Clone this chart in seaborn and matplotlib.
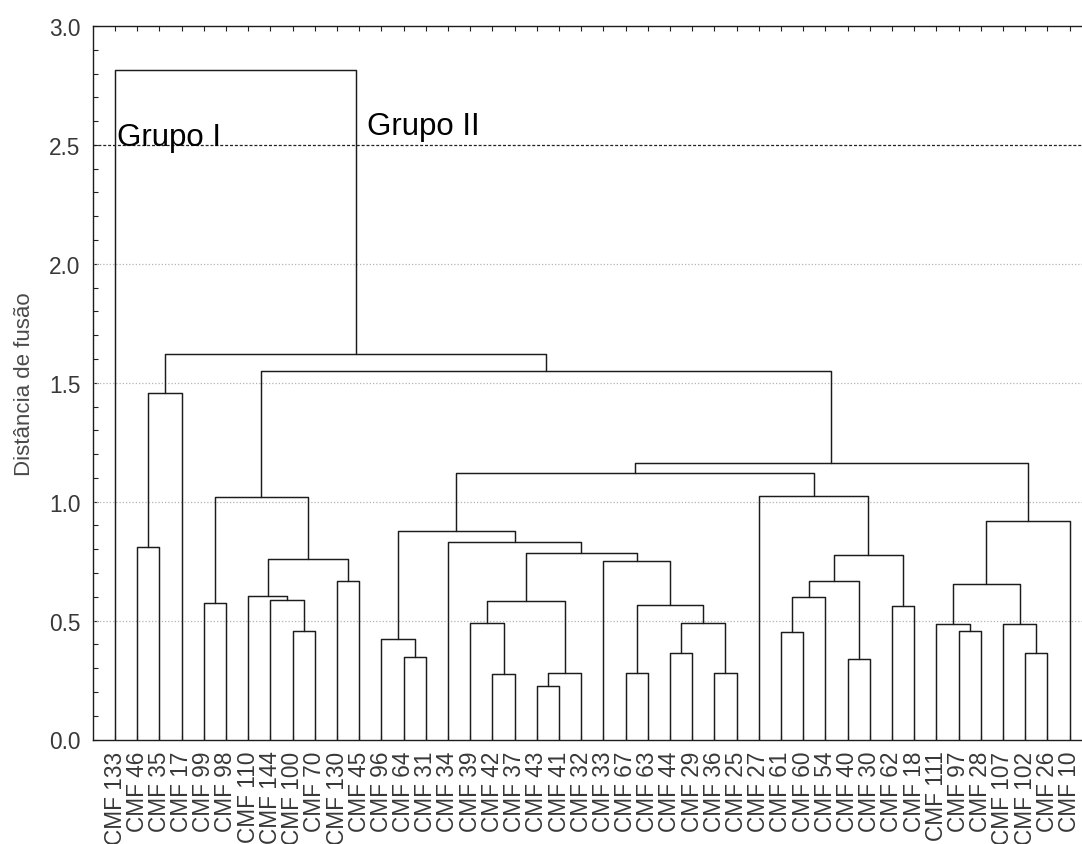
import numpy as np
import pandas as pd
import matplotlib
matplotlib.use("Agg")
import matplotlib.pyplot as plt
from matplotlib.ticker import MultipleLocator
import seaborn as sns

# Leaf order along the horizontal axis
leaves = [
    "CMF 133", "CMF 46", "CMF 35", "CMF 17", "CMF 99", "CMF 98", "CMF 110",
    "CMF 144", "CMF 100", "CMF 70", "CMF 130", "CMF 45", "CMF 96", "CMF 64",
    "CMF 31", "CMF 34", "CMF 39", "CMF 42", "CMF 37", "CMF 43", "CMF 41",
    "CMF 32", "CMF 33", "CMF 67", "CMF 63", "CMF 44", "CMF 29", "CMF 36",
    "CMF 25", "CMF 27", "CMF 61", "CMF 60", "CMF 54", "CMF 40", "CMF 30",
    "CMF 62", "CMF 18", "CMF 111", "CMF 97", "CMF 28", "CMF 107", "CMF 102",
    "CMF 26", "CMF 10",
]

# Agglomeration steps: ids < 44 are leaves, step k creates cluster 44 + k
merge_left = [1, 44, 4, 8, 7, 6, 10, 49, 46, 13, 12, 17, 16, 19, 57, 56, 23,
              25, 27, 61, 60, 22, 59, 15, 54, 30, 69, 33, 70, 35, 72, 29, 68,
              38, 37, 41, 40, 78, 81, 76, 52, 45, 0]
merge_right = [2, 3, 5, 9, 47, 48, 11, 50, 51, 14, 53, 18, 55, 20, 21, 58, 24,
               26, 28, 62, 63, 64, 65, 66, 67, 31, 32, 34, 71, 36, 73, 74, 75,
               39, 77, 42, 79, 80, 43, 82, 83, 84, 85]
merge_height = [0.811, 1.456, 0.575, 0.458, 0.588, 0.605, 0.665, 0.759, 1.019,
                0.346, 0.423, 0.275, 0.489, 0.226, 0.281, 0.581, 0.281, 0.362,
                0.281, 0.489, 0.564, 0.752, 0.783, 0.829, 0.878, 0.451, 0.598,
                0.339, 0.668, 0.563, 0.776, 1.025, 1.119, 0.456, 0.486, 0.362,
                0.486, 0.653, 0.918, 1.161, 1.551, 1.621, 2.815]

y_ticks = [0.0, 0.5, 1.0, 1.5, 2.0, 2.5, 3.0]
cut_height = 2.5
group_labels = ["Grupo I", "Grupo II"]

# Build the U-shaped links of the tree from the agglomeration steps
n = len(leaves)
pos = {i: float(i + 1) for i in range(n)}
hgt = {i: 0.0 for i in range(n)}
rows = []
for k, (a, b, h) in enumerate(zip(merge_left, merge_right, merge_height)):
    node = n + k
    xs = [pos[a], pos[a], pos[b], pos[b]]
    ys = [hgt[a], h, h, hgt[b]]
    for order, (xv, yv) in enumerate(zip(xs, ys)):
        rows.append({"link": k, "order": order, "x": xv, "y": yv})
    pos[node] = (pos[a] + pos[b]) / 2.0
    hgt[node] = h
links = pd.DataFrame(rows)

sns.set_theme(style="white")
plt.rcParams["font.family"] = ["Liberation Sans", "DejaVu Sans"]

W, H = 1082, 845
left_px, top_px, bottom_px = 92.8, 27.0, 740.5
leaf_step_px = 22.2
fig = plt.figure(figsize=(W / 100, H / 100), dpi=100)
# The plotting area runs to the right edge of the canvas
ax = fig.add_axes([left_px / W, (H - bottom_px) / H,
                   (W - left_px) / W, (bottom_px - top_px) / H])

# Horizontal reference lines
for yv in y_ticks[1:5]:
    ax.axhline(yv, color="#b4b4b4", lw=0.9, ls=(0, (1, 1.6)), zorder=1)
ax.axhline(cut_height, color="#222222", lw=0.9, ls=(0, (2.4, 1.5)), zorder=2)

sns.lineplot(data=links, x="x", y="y", units="link", estimator=None,
             sort=False, color="#1c1c1c", lw=1.05, ax=ax, zorder=3,
             legend=False)

ax.set_xlim(0, (W - left_px) / leaf_step_px)
ax.set_ylim(0, 3.0)

ax.set_xticks(np.arange(1, n + 1))
ax.set_xticklabels(leaves, rotation=90, fontsize=16.3, color="#383838")
ax.tick_params(axis="x", which="both", direction="in", top=True, bottom=True,
               length=3.5, width=0.8, color="#222222", pad=8)

ax.set_yticks(y_ticks)
ax.set_yticklabels([f"{v:.1f}" for v in y_ticks], fontsize=16.3,
                   color="#383838")
ax.yaxis.set_minor_locator(MultipleLocator(0.1))
ax.tick_params(axis="y", which="both", direction="in", left=True,
               right=False, length=3.5, width=0.8, color="#222222", pad=9)

ax.set_xlabel("")
ax.set_ylabel("Distância de fusão", fontsize=16, color="#4a4a4a",
              labelpad=10)

for side in ["left", "top", "bottom"]:
    ax.spines[side].set_visible(True)
    ax.spines[side].set_color("#1c1c1c")
    ax.spines[side].set_linewidth(1.0)
ax.spines["right"].set_visible(False)

ax.text(1.1, cut_height, group_labels[0], fontsize=22.5, color="black",
        va="baseline", ha="left", zorder=4)
ax.text(12.35, 2.545, group_labels[1], fontsize=22.5, color="black",
        va="baseline", ha="left", zorder=4)

fig.savefig("out.png", dpi=100, facecolor="white")
